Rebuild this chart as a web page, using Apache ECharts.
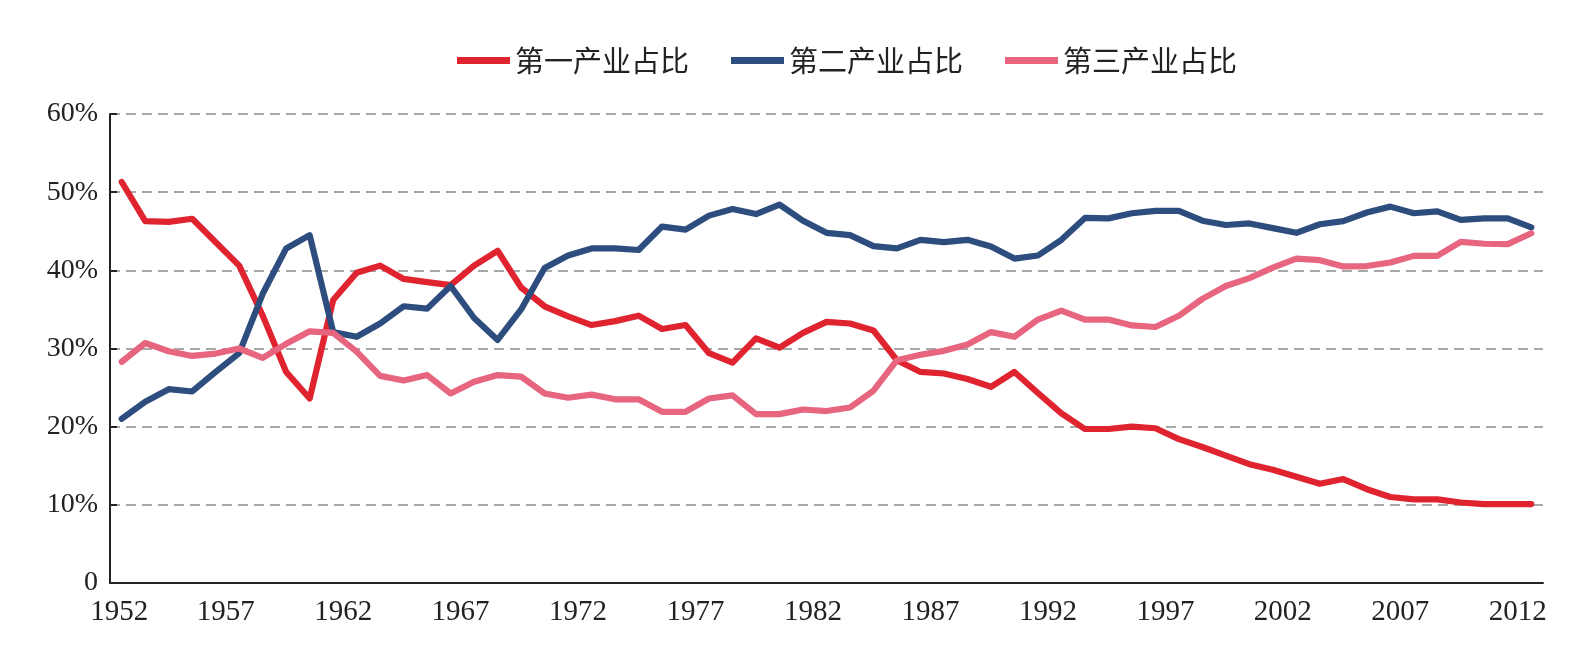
<!DOCTYPE html>
<html>
<head>
<meta charset="utf-8">
<title>三次产业占比</title>
<script src="https://cdn.jsdelivr.net/npm/echarts@6/dist/echarts.min.js"></script>
<style>
  html, body { margin: 0; padding: 0; background: #fff; }
  #main { width: 1586px; height: 653px; }
</style>
</head>
<body>
<div id="main"></div>
<script>
"use strict";

// years 1952 - 2012
var years = [];
for (var y = 1952; y <= 2012; y++) {
  years.push(String(y));
}

var seriesNames = ["第一产业占比", "第二产业占比", "第三产业占比"];

var primaryShare = [
  51.3, 46.3, 46.2, 46.6, 43.6, 40.6, 34.2, 27.0, 23.6, 36.2, 39.7, 40.6,
  38.9, 38.5, 38.1, 40.6, 42.5, 37.8, 35.4, 34.1, 33.0, 33.5, 34.2, 32.5,
  33.0, 29.4, 28.2, 31.3, 30.1, 32.0, 33.4, 33.2, 32.3, 28.5, 27.0, 26.8,
  26.1, 25.1, 27.0, 24.3, 21.7, 19.7, 19.7, 20.0, 19.8, 18.4, 17.4, 16.3,
  15.2, 14.5, 13.6, 12.7, 13.3, 12.0, 11.0, 10.7, 10.7, 10.3, 10.1, 10.1, 10.1
];

var secondaryShare = [
  21.0, 23.2, 24.8, 24.5, 27.0, 29.4, 37.0, 42.8, 44.5, 32.1, 31.5, 33.2,
  35.4, 35.1, 38.0, 33.9, 31.1, 35.0, 40.3, 41.9, 42.8, 42.8, 42.6, 45.6,
  45.2, 47.0, 47.85, 47.2, 48.4, 46.35, 44.8, 44.5, 43.1, 42.8, 43.9, 43.6,
  43.9, 43.05, 41.5, 41.9, 43.9, 46.7, 46.65, 47.3, 47.6, 47.6, 46.35, 45.8,
  46.0, 45.4, 44.8, 45.9, 46.3, 47.4, 48.15, 47.3, 47.55, 46.45, 46.65, 46.65, 45.5
];

var tertiaryShare = [
  28.3, 30.7, 29.65, 29.05, 29.35, 30.0, 28.8, 30.6, 32.2, 32.0, 29.6, 26.5,
  25.9, 26.6, 24.25, 25.75, 26.6, 26.4, 24.25, 23.7, 24.1, 23.5, 23.5, 21.9,
  21.9, 23.6, 24.0, 21.6, 21.6, 22.2, 22.0, 22.45, 24.6, 28.5, 29.2, 29.7,
  30.5, 32.1, 31.5, 33.7, 34.85, 33.7, 33.7, 32.95, 32.75, 34.2, 36.35, 38.0,
  39.0, 40.35, 41.5, 41.3, 40.5, 40.55, 41.0, 41.85, 41.85, 43.65, 43.4, 43.35, 44.75
];

var seriesColors = ["#e0242f", "#2c4d7d", "#e8657f"];

var serifFont = "'Liberation Serif', 'DejaVu Serif', serif";

var chartDom = document.getElementById("main");
var myChart = echarts.init(chartDom, null, { renderer: "canvas" });

function lineSeries(name, data, color) {
  return {
    name: name,
    type: "line",
    data: data,
    showSymbol: false,
    symbol: "none",
    lineStyle: { color: color, width: 6.2, join: "round", cap: "round" },
    itemStyle: { color: color },
  };
}

var option = {
  animation: false,
  backgroundColor: "#ffffff",
  legend: {
    left: 452,
    top: 41,
    icon: "rect",
    itemWidth: 53,
    itemHeight: 7,
    itemGap: 42,
    textStyle: {
      fontFamily: "'Noto Sans CJK SC', sans-serif",
      fontSize: 29,
      color: "#222",
    },
    data: seriesNames,
  },
  grid: {
    left: 110,
    right: 43,
    top: 114,
    bottom: 70,
  },
  xAxis: {
    type: "category",
    data: years,
    boundaryGap: true,
    axisLine: { lineStyle: { color: "#222", width: 2 } },
    axisTick: {
      inside: true,
      length: 9,
      interval: 4,
      lineStyle: { color: "#222", width: 2 },
    },
    axisLabel: {
      interval: 4,
      margin: 15,
      fontFamily: serifFont,
      fontSize: 29,
      color: "#222",
      formatter: function (value, index) {
        return index === 0 ? "{first|" + value + "}" : "{norm|" + value + "}";
      },
      rich: {
        first: { fontFamily: serifFont, fontSize: 29, color: "#222", padding: [0, 5, 0, 0] },
        norm: { fontFamily: serifFont, fontSize: 29, color: "#222", padding: [0, 27, 0, 0] },
      },
    },
    splitLine: { show: false },
  },
  yAxis: {
    type: "value",
    min: 0,
    max: 60,
    interval: 10,
    axisLine: { show: true, lineStyle: { color: "#222", width: 2 } },
    axisTick: {
      show: true,
      inside: true,
      length: 7,
      lineStyle: { color: "#222", width: 2 },
    },
    axisLabel: {
      margin: 12,
      fontFamily: serifFont,
      fontSize: 28,
      color: "#222",
      formatter: function (v) {
        return v === 0 ? "0" : v + "%";
      },
    },
    splitLine: {
      show: true,
      lineStyle: { color: "#8c8c8c", width: 1.5, type: [10, 6] },
    },
  },
  series: [
    lineSeries(seriesNames[0], primaryShare, seriesColors[0]),
    lineSeries(seriesNames[1], secondaryShare, seriesColors[1]),
    lineSeries(seriesNames[2], tertiaryShare, seriesColors[2]),
  ],
};

option && myChart.setOption(option);
</script>
</body>
</html>
